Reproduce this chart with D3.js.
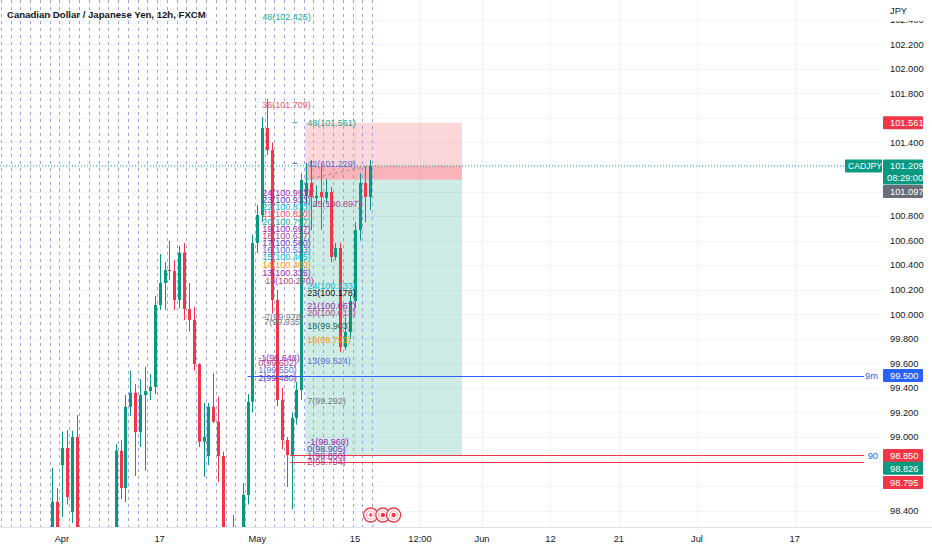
<!DOCTYPE html>
<html><head><meta charset="utf-8">
<script src="https://cdn.jsdelivr.net/npm/d3@7"></script>
<style>body{margin:0;background:#fff}svg{display:block;font-family:"Liberation Sans",Arial,sans-serif}</style>
</head><body>
<svg id="c" width="932" height="550"></svg>
<script>
// ---------------- DATA ----------------
const title = "Canadian Dollar / Japanese Yen, 12h, FXCM";
const symbol = "CADJPY";
const currency = "JPY";
const opens  = [97.80,97.95,98.05,97.90,97.70,97.85,98.00,97.75,97.60,97.90,
  98.10,98.472,98.771,98.910,98.388,99.000,98.15,97.90,97.70,97.85,
  97.75,97.95,98.05,97.95,98.888,98.584,99.246,99.361,99.040,99.342,
  99.374,99.409,100.075,100.255,100.361,100.352,100.116,100.502,100.043,99.953,
  99.594,98.961,98.845,99.246,99.124,98.845,98.10,97.95,98.05,98.00,
  98.527,99.287,100.581,100.809,101.518,101.339,100.116,99.301,98.975,98.852,
  99.154,99.383,100.964,101.070,100.947,100.996,100.947,100.996,100.467,100.540,
  99.733,99.855,100.108,100.687,101.070,100.956];
const highs  = [98.05,98.15,98.20,98.10,97.95,98.10,98.20,98.00,97.95,98.20,
  98.749,98.584,99.043,99.057,99.050,99.179,98.22,98.05,97.95,98.10,
  98.00,98.20,98.27,98.942,98.975,99.342,99.540,99.431,99.472,99.572,
  99.513,100.151,100.491,100.428,100.597,100.442,100.556,100.581,100.255,100.061,
  99.600,99.277,99.277,99.521,99.328,98.880,98.22,98.364,98.20,98.625,
  99.350,100.650,100.890,101.607,101.754,101.400,100.200,99.400,99.000,99.200,
  99.450,101.150,101.233,101.257,101.050,101.233,101.100,101.037,100.581,100.581,
  99.978,100.150,100.750,101.150,101.200,101.257];
const lows   = [97.65,97.80,97.85,97.60,97.55,97.70,97.70,97.50,97.45,97.80,
  98.00,98.05,98.347,98.45,98.30,98.00,97.80,97.60,97.50,97.65,
  97.55,97.80,97.85,97.90,98.494,98.470,99.171,98.682,98.918,98.725,
  99.301,99.350,100.035,100.035,100.279,100.035,100.050,99.953,99.858,99.540,
  98.918,98.676,98.771,99.114,98.635,97.90,97.85,97.80,97.90,97.95,
  98.450,99.200,100.500,100.750,101.300,100.010,99.250,98.900,98.592,98.410,
  99.100,99.300,100.900,100.687,100.880,100.687,100.900,100.426,100.440,99.692,
  99.709,99.800,100.050,100.600,100.750,100.850];
const closes = [97.95,98.05,97.90,97.70,97.85,98.00,97.75,97.60,97.90,98.10,
  98.472,98.15,98.910,98.510,99.000,98.15,97.90,97.70,97.85,97.75,
  97.95,98.05,97.95,98.888,98.584,99.246,99.361,99.040,99.342,99.374,
  99.409,100.075,100.255,100.361,100.352,100.116,100.502,100.043,99.953,99.594,
  98.961,99.002,99.246,99.124,98.845,98.10,97.95,98.05,98.00,98.527,
  99.287,100.581,100.809,101.518,101.339,100.116,99.301,98.975,98.852,99.154,
  99.383,101.094,101.070,100.956,100.964,100.956,100.996,100.467,100.540,99.733,
  99.855,100.108,100.687,101.070,100.956,101.209];

// price ticks; those hidden behind price tags in the reference are not printed
const priceTicks = d3.range(98.4, 102.41, 0.2).map(v => +v.toFixed(1));
const hiddenTicks = [98.6, 98.8, 101.0, 101.2, 101.6];
const timeTickIdx   = [12, 32, 52, 72, 85.3, 98, 112, 126, 142, 162];
const timeTickLabel = ["Apr","17","May","15","12:00","Jun","12","21","Jul","17"];

// fib-style level labels: level, price, anchor bar, tone
const fibLevels = [
  ["48",102.426,53,"teal"],["36",101.709,53,"red"],
  ["48",101.561,62.2,"teal"],["42",101.229,62.2,"blue"],["25",100.897,63.3,"plum"],
  ["24",100.993,53,"purple"],["23",100.933,53,"violet"],["22",100.873,53,"cyan"],
  ["21",100.820,53,"red"],["20",100.757,53,"teal"],["19",100.697,53,"purple"],
  ["18",100.637,53,"plum"],["17",100.580,53,"violet"],["16",100.523,53,"blue"],
  ["15",100.465,53,"cyan"],["14",100.400,53,"orange"],["13",100.335,53,"purple"],
  ["18",100.270,53.6,"plum"],
  ["24",100.233,62.2,"cyan"],["23",100.178,62.2,"dark"],["21",100.067,62.2,"purple"],
  ["20",100.013,62.2,"plum"],["18",99.903,62.2,"darkteal"],["16",99.793,62.2,"orange"],
  ["13",99.624,62.2,"blue"],["7",99.292,62.2,"gray"],
  ["-7",99.978,53,"gray"],["7",99.935,53.4,"gray"],
  ["-1",99.648,52.2,"purple"],["0",99.602,52.2,"plum"],["1",99.550,52.2,"blue"],["2",99.480,52.2,"violet"],
  ["-1",98.960,62.2,"purple"],["0",98.905,62.2,"violet"],["1",98.850,62.2,"purple"],["2",98.794,62.2,"plum"]
];

// position tool (short): entry, stop, target, start bar, end bar
const posEntry = 101.097, posStop = 101.561, posTarget = 98.850, posStart = 61.8, posEnd = 93.9;
const lastPrice = 101.209, lastBar = 75, countdown = "08:29:00";
const hLines = [ // price, start bar, tone, side label
  [99.500, 50, "hblue", "9m"],
  [98.850, 58.7, "hred", "90"],
  [98.795, 58.7, "hred", ""]
];
const axisTags = [ // price label, tone, price where tag sits
  ["101.561","tred",101.561],
  ["99.500","tblue",99.500],
  ["98.850","tred",98.850],
  ["98.826","tgreen",98.745],
  ["98.795","tred",98.628]
];
const dayLineBars = d3.range(0, 39).map(k => 2*k - 0.5);
const eventBars = [75.2, 77.7, 79.9];
const eventKinds = ["plus","dot","dot"];

// ---------------- STYLE ----------------
const C = {up:"#089981", down:"#f23645"};
const tone = {teal:"#22ab94",red:"#f7525f",blue:"#5b6fd8",plum:"#b0458a",purple:"#9c27b0",
  violet:"#673ab7",cyan:"#00bcd4",orange:"#ff9800",dark:"#131722",darkteal:"#0b6e5f",gray:"#787b86",
  hblue:"#2962ff",hred:"#f23645",tred:"#f23645",tblue:"#2962ff",tgreen:"#089981"};

// ---------------- SCALES ----------------
const W = 932, H = 550, plotR = 881, plotB = 527;
const x = d3.scaleLinear().domain([0, 100]).range([3.3, 3.3 + 488.5]);
const y = d3.scaleLinear().domain([98.4, 102.2]).range([510.6, 44.3]);

const svg = d3.select("#c");
svg.append("rect").attr("width",W).attr("height",H).attr("fill","#fff");
const defs = svg.append("defs");
defs.append("clipPath").attr("id","plot").append("rect").attr("x",0).attr("y",0).attr("width",plotR).attr("height",plotB);

const plot = svg.append("g").attr("clip-path","url(#plot)");

// grid
plot.append("g").selectAll("line").data(priceTicks).join("line")
  .attr("x1",0).attr("x2",plotR).attr("y1",d=>Math.round(y(d))+0.5).attr("y2",d=>Math.round(y(d))+0.5)
  .attr("stroke","#f0f3fa");
plot.append("g").selectAll("line").data(timeTickIdx).join("line")
  .attr("x1",d=>Math.round(x(d))+0.5).attr("x2",d=>Math.round(x(d))+0.5).attr("y1",0).attr("y2",plotB)
  .attr("stroke","#f0f3fa");

// position tool
const px0 = x(posStart), px1 = x(posEnd);
plot.append("rect").attr("x",px0).attr("width",px1-px0).attr("y",y(posStop)).attr("height",y(posEntry)-y(posStop))
  .attr("fill","rgba(242,54,69,0.2)");
plot.append("rect").attr("x",px0).attr("width",px1-px0).attr("y",y(lastPrice)).attr("height",y(posEntry)-y(lastPrice))
  .attr("fill","rgba(242,54,69,0.22)");
plot.append("rect").attr("x",px0).attr("width",px1-px0).attr("y",y(posEntry)).attr("height",y(posTarget)-y(posEntry))
  .attr("fill","rgba(8,153,129,0.2)");
plot.append("line").attr("x1",px0).attr("x2",x(lastBar)).attr("y1",y(posEntry)).attr("y2",y(lastPrice))
  .attr("stroke","#9598a1").attr("stroke-dasharray","3,3");

// vertical dashed day lines
plot.append("g").selectAll("line").data(dayLineBars).join("line")
  .attr("x1",d=>Math.round(x(d))+0.5).attr("x2",d=>Math.round(x(d))+0.5).attr("y1",0).attr("y2",plotB)
  .attr("stroke","#8e91e0").attr("stroke-opacity",0.85).attr("stroke-dasharray","3,4");

// current price dotted line
plot.append("line").attr("x1",0).attr("x2",plotR).attr("y1",y(lastPrice)).attr("y2",y(lastPrice))
  .attr("stroke",C.up).attr("stroke-dasharray","1,2");

// candles
const bars = opens.map((o,i)=>({i,o,h:highs[i],l:lows[i],c:closes[i]}));
const cg = plot.append("g").selectAll("g").data(bars).join("g");
cg.append("line").attr("x1",d=>Math.round(x(d.i))+0.5).attr("x2",d=>Math.round(x(d.i))+0.5)
  .attr("y1",d=>y(d.h)).attr("y2",d=>y(d.l)).attr("stroke",d=>d.c>=d.o?C.up:C.down);
cg.append("rect").attr("x",d=>Math.round(x(d.i))-1).attr("width",3)
  .attr("y",d=>y(Math.max(d.o,d.c))).attr("height",d=>Math.max(1,Math.abs(y(d.o)-y(d.c))))
  .attr("fill",d=>d.c>=d.o?C.up:C.down);

// horizontal lines
hLines.forEach(([p,b,t])=>{
  plot.append("line").attr("x1",x(b)).attr("x2",864).attr("y1",Math.round(y(p))+0.5).attr("y2",Math.round(y(p))+0.5)
    .attr("stroke",tone[t]);
});

// fib labels
const fg = plot.append("g").attr("font-size","9px");
fibLevels.forEach(([lv,p,b,t])=>{
  fg.append("text").attr("x",x(b)).attr("y",y(p)).attr("dy","0.35em")
    .attr("fill",tone[t]).text(`${lv}(${p.toFixed(3)})`);
});
// small level markers
[[101.561,"teal"],[101.229,"blue"]].forEach(([p,t])=>{
  plot.append("line").attr("x1",x(59.2)).attr("x2",x(60.2)).attr("y1",y(p)).attr("y2",y(p)).attr("stroke",tone[t]);
});

// event icons
const eg = svg.append("g").selectAll("g").data(eventBars).join("g")
  .attr("transform",d=>`translate(${x(d)},515)`);
eg.append("circle").attr("r",7).attr("fill","#fff").attr("stroke","#f23645").attr("stroke-width",1.3);
eg.append("circle").attr("r",4.2).attr("fill","none").attr("stroke","#f7a1a8").attr("stroke-width",1);
eg.filter((d,i)=>eventKinds[i]==="dot").append("circle").attr("r",2.2).attr("fill","#f23645");
eg.filter((d,i)=>eventKinds[i]==="plus").append("path").attr("d","M-2,0H2M0,-2V2").attr("stroke","#f23645").attr("stroke-width",1.2);

// bottom axis
svg.append("line").attr("x1",0).attr("x2",W).attr("y1",plotB+0.5).attr("y2",plotB+0.5).attr("stroke","#e0e3eb");
svg.append("g").selectAll("text").data(timeTickIdx).join("text")
  .attr("x",d=>x(d)).attr("y",539).attr("dy","0.35em").attr("text-anchor","middle")
  .attr("font-size","9.3px").attr("fill","#131722").text((d,i)=>timeTickLabel[i]);

// price axis labels
svg.append("g").selectAll("text").data(priceTicks.filter(v=>!hiddenTicks.includes(v))).join("text")
  .attr("x",890).attr("y",d=>y(d)).attr("dy","0.35em").attr("font-size","9.3px").attr("fill","#131722")
  .text(d=>d.toFixed(3));
svg.append("rect").attr("x",plotR).attr("y",0).attr("width",W-plotR).attr("height",21).attr("fill","#fff");
svg.append("text").attr("x",890).attr("y",11).attr("dy","0.35em").attr("font-size","9.3px").attr("fill","#131722").text(currency);

// hline side labels
hLines.forEach(([p,b,t,lab])=>{
  if(!lab) return;
  svg.append("text").attr("x",878).attr("y",y(p)).attr("dy","0.35em").attr("text-anchor","end")
    .attr("font-size","9.3px").attr("fill","#2962ff").text(lab);
});

// axis tags
function tag(yc, h, fill, lines){
  svg.append("rect").attr("x",883).attr("y",yc-h/2).attr("width",40).attr("height",h).attr("fill",fill).attr("rx",1);
  lines.forEach((s,k)=>svg.append("text").attr("x",890).attr("y",yc-h/2+6.5+k*12).attr("dy","0.35em")
    .attr("font-size","9.3px").attr("fill","#fff").text(s));
}
axisTags.forEach(([lab,t,p])=>tag(y(p),13,tone[t],[lab]));
// last price tag with countdown
const ly = y(lastPrice);
svg.append("rect").attr("x",845).attr("y",ly-6.5).attr("width",37).attr("height",13).attr("fill",C.up).attr("rx",1);
svg.append("text").attr("x",848).attr("y",ly).attr("dy","0.35em").attr("font-size","8.6px").attr("fill","#fff").text(symbol);
svg.append("rect").attr("x",883).attr("y",ly-6.5).attr("width",40).attr("height",25).attr("fill",C.up).attr("rx",1);
svg.append("text").attr("x",890).attr("y",ly).attr("dy","0.35em").attr("font-size","9.3px").attr("fill","#fff").text(lastPrice.toFixed(3));
svg.append("text").attr("x",887).attr("y",ly+12).attr("dy","0.35em").attr("font-size","9.3px").attr("fill","#fff").text(countdown);
tag(ly+25.5, 13, "#6a6d78", [posEntry.toFixed(3)]);

// title
svg.append("text").attr("x",7).attr("y",15).attr("dy","0.35em").attr("font-size","9.6px").attr("font-weight","bold")
  .attr("fill","#131722").text(title);
</script>
</body></html>
